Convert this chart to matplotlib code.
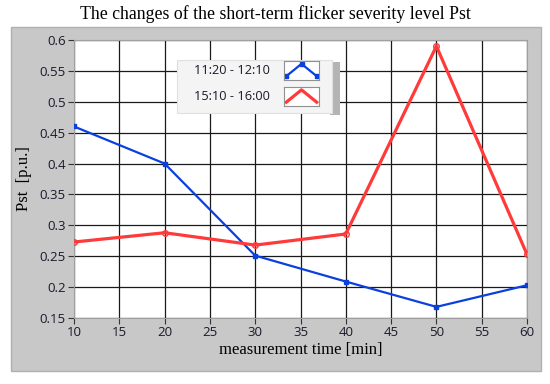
import matplotlib.pyplot as plt
from matplotlib.patches import Rectangle

times = [10, 20, 30, 40, 50, 60]
pst_1120 = [0.460, 0.400, 0.251, 0.209, 0.168, 0.203]
pst_1510 = [0.273, 0.288, 0.268, 0.286, 0.590, 0.253]
labels = ["11:20 - 12:10", "15:10 - 16:00"]
xticks = [10, 15, 20, 25, 30, 35, 40, 45, 50, 55, 60]
yticks = [0.15, 0.2, 0.25, 0.3, 0.35, 0.4, 0.45, 0.5, 0.55, 0.6]

blue = "#0a3fe0"
red = "#ff3a3a"

fig = plt.figure(figsize=(5.5, 3.84), dpi=100)
fig.patch.set_facecolor("white")

# gray panel behind the graph
fig.patches.append(Rectangle((11 / 550, 1 - 371 / 384), 530 / 550, 344 / 384,
                             transform=fig.transFigure, facecolor="#c8c8c8",
                             edgecolor="#b0b0b0", lw=1, zorder=-10))

fig.text(0.5, 1 - 14 / 384, "The changes of the short-term flicker severity level Pst",
         ha="center", va="center", family="Liberation Serif", fontsize=12.8)

ax = fig.add_axes([74 / 550, 1 - 318 / 384, 453 / 550, 278 / 384])
ax.set_facecolor("white")
ax.plot(times, pst_1120, color=blue, lw=1.6, marker="s", ms=3.5, zorder=3)
ax.plot(times, pst_1510, color=red, lw=2.3, marker="o", ms=4, mfc="none", mew=1,
        zorder=3)
ax.set_xlim(10, 60)
ax.set_ylim(0.15, 0.6)
ax.set_xticks(xticks)
ax.set_yticks(yticks)
ax.set_yticklabels([f"{v:g}" for v in yticks])
ax.grid(True, color="#1a1a1a", lw=0.9)
ax.tick_params(labelsize=9.5, length=4, color="#333333", labelcolor="#1a1a2a", pad=2)
for lab in ax.get_xticklabels() + ax.get_yticklabels():
    lab.set_family("Open Sans")
for s in ax.spines.values():
    s.set_color("#a0a0a0")
ax.set_xlabel("measurement time [min]", family="Liberation Serif", fontsize=12, labelpad=2)
ax.set_ylabel("Pst  [p.u.]", family="Liberation Serif", fontsize=12, labelpad=5)

# legend box drawn by hand
lx0, ly0, lw_, lh = 177 / 550, 1 - 113 / 384, 155 / 550, 53 / 384
fig.patches.append(Rectangle((lx0 + lw_ - 0.004, ly0 - 0.004), 0.018, lh,
                             transform=fig.transFigure, facecolor="#b4b4b4",
                             edgecolor="none", zorder=4))
fig.patches.append(Rectangle((lx0, ly0), lw_, lh, transform=fig.transFigure,
                             facecolor="#f4f4f4", edgecolor="#e0e0e0", lw=0.8, zorder=5))
hump_x = [0, 1, 2]
hump_y = [0.2, 0.85, 0.2]
for i, (lab, col) in enumerate(zip(labels, [blue, red])):
    yc = 1 - (71 + 26 * i) / 384
    t = fig.text(194 / 550, yc, lab, ha="left", va="center", fontsize=9.2,
                 family="Open Sans", color="#1a1a2a", zorder=6)
    la = fig.add_axes([284 / 550, yc - 9 / 384, 35 / 550, 19 / 384])
    la.set_zorder(6)
    la.set_facecolor("white")
    if i == 0:
        la.plot(hump_x, hump_y, color=col, lw=1.6, marker="s", ms=3)
    else:
        la.plot(hump_x, hump_y, color=col, lw=2.3)
    la.set_xlim(-0.15, 2.15)
    la.set_ylim(0, 1)
    la.set_xticks([])
    la.set_yticks([])
    for s in la.spines.values():
        s.set_color("#909090")
        s.set_linewidth(0.8)

fig.savefig("out.png", dpi=100)
